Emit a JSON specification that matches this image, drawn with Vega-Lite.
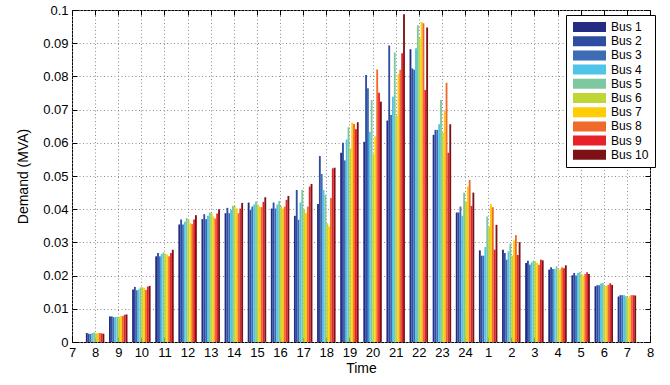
{
  "$schema": "https://vega.github.io/schema/vega-lite/v6.json",
  "width": 578,
  "height": 332,
  "autosize": {"type": "none"},
  "padding": {"left": 72, "top": 10, "right": 20, "bottom": 43},
  "background": "white",
  "config": {
    "font": "Liberation Sans",
    "view": {"stroke": "black", "strokeWidth": 1},
    "axis": {
      "domain": false,
      "labelFont": "Liberation Sans",
      "labelFontSize": 13,
      "labelColor": "black",
      "titleFont": "Liberation Sans",
      "titleFontSize": 14,
      "titleFontWeight": "normal",
      "titleColor": "black",
      "tickColor": "black",
      "tickSize": -5,
      "labelPadding": 9,
      "gridColor": "#8c8c8c",
      "gridDash": [1, 2.5],
      "gridOpacity": 1
    }
  },
  "datasets": {
    "load": [
      {"hour": "8", "bus": "Bus 1", "mva": 0.0027}, {"hour": "8", "bus": "Bus 2", "mva": 0.0025}, {"hour": "8", "bus": "Bus 3", "mva": 0.0024}, {"hour": "8", "bus": "Bus 4", "mva": 0.0027}, {"hour": "8", "bus": "Bus 5", "mva": 0.0029}, {"hour": "8", "bus": "Bus 6", "mva": 0.0026}, {"hour": "8", "bus": "Bus 7", "mva": 0.0027}, {"hour": "8", "bus": "Bus 8", "mva": 0.0027}, {"hour": "8", "bus": "Bus 9", "mva": 0.0026}, {"hour": "8", "bus": "Bus 10", "mva": 0.0025},
      {"hour": "9", "bus": "Bus 1", "mva": 0.0077}, {"hour": "9", "bus": "Bus 2", "mva": 0.0077}, {"hour": "9", "bus": "Bus 3", "mva": 0.0075}, {"hour": "9", "bus": "Bus 4", "mva": 0.0075}, {"hour": "9", "bus": "Bus 5", "mva": 0.0076}, {"hour": "9", "bus": "Bus 6", "mva": 0.0076}, {"hour": "9", "bus": "Bus 7", "mva": 0.0078}, {"hour": "9", "bus": "Bus 8", "mva": 0.0078}, {"hour": "9", "bus": "Bus 9", "mva": 0.0082}, {"hour": "9", "bus": "Bus 10", "mva": 0.0083},
      {"hour": "10", "bus": "Bus 1", "mva": 0.0158}, {"hour": "10", "bus": "Bus 2", "mva": 0.0166}, {"hour": "10", "bus": "Bus 3", "mva": 0.0156}, {"hour": "10", "bus": "Bus 4", "mva": 0.0158}, {"hour": "10", "bus": "Bus 5", "mva": 0.0164}, {"hour": "10", "bus": "Bus 6", "mva": 0.0165}, {"hour": "10", "bus": "Bus 7", "mva": 0.0163}, {"hour": "10", "bus": "Bus 8", "mva": 0.0157}, {"hour": "10", "bus": "Bus 9", "mva": 0.0167}, {"hour": "10", "bus": "Bus 10", "mva": 0.0169},
      {"hour": "11", "bus": "Bus 1", "mva": 0.0258}, {"hour": "11", "bus": "Bus 2", "mva": 0.0268}, {"hour": "11", "bus": "Bus 3", "mva": 0.0258}, {"hour": "11", "bus": "Bus 4", "mva": 0.0265}, {"hour": "11", "bus": "Bus 5", "mva": 0.027}, {"hour": "11", "bus": "Bus 6", "mva": 0.0266}, {"hour": "11", "bus": "Bus 7", "mva": 0.0263}, {"hour": "11", "bus": "Bus 8", "mva": 0.0258}, {"hour": "11", "bus": "Bus 9", "mva": 0.0268}, {"hour": "11", "bus": "Bus 10", "mva": 0.0278},
      {"hour": "12", "bus": "Bus 1", "mva": 0.0354}, {"hour": "12", "bus": "Bus 2", "mva": 0.0369}, {"hour": "12", "bus": "Bus 3", "mva": 0.0354}, {"hour": "12", "bus": "Bus 4", "mva": 0.0362}, {"hour": "12", "bus": "Bus 5", "mva": 0.0373}, {"hour": "12", "bus": "Bus 6", "mva": 0.0369}, {"hour": "12", "bus": "Bus 7", "mva": 0.0358}, {"hour": "12", "bus": "Bus 8", "mva": 0.0355}, {"hour": "12", "bus": "Bus 9", "mva": 0.0369}, {"hour": "12", "bus": "Bus 10", "mva": 0.0382},
      {"hour": "13", "bus": "Bus 1", "mva": 0.037}, {"hour": "13", "bus": "Bus 2", "mva": 0.0385}, {"hour": "13", "bus": "Bus 3", "mva": 0.037}, {"hour": "13", "bus": "Bus 4", "mva": 0.038}, {"hour": "13", "bus": "Bus 5", "mva": 0.039}, {"hour": "13", "bus": "Bus 6", "mva": 0.0388}, {"hour": "13", "bus": "Bus 7", "mva": 0.0378}, {"hour": "13", "bus": "Bus 8", "mva": 0.0372}, {"hour": "13", "bus": "Bus 9", "mva": 0.0387}, {"hour": "13", "bus": "Bus 10", "mva": 0.04},
      {"hour": "14", "bus": "Bus 1", "mva": 0.0388}, {"hour": "14", "bus": "Bus 2", "mva": 0.0404}, {"hour": "14", "bus": "Bus 3", "mva": 0.0388}, {"hour": "14", "bus": "Bus 4", "mva": 0.0398}, {"hour": "14", "bus": "Bus 5", "mva": 0.041}, {"hour": "14", "bus": "Bus 6", "mva": 0.041}, {"hour": "14", "bus": "Bus 7", "mva": 0.0402}, {"hour": "14", "bus": "Bus 8", "mva": 0.0388}, {"hour": "14", "bus": "Bus 9", "mva": 0.0402}, {"hour": "14", "bus": "Bus 10", "mva": 0.0419},
      {"hour": "15", "bus": "Bus 1", "mva": 0.042}, {"hour": "15", "bus": "Bus 2", "mva": 0.0398}, {"hour": "15", "bus": "Bus 3", "mva": 0.0408}, {"hour": "15", "bus": "Bus 4", "mva": 0.0414}, {"hour": "15", "bus": "Bus 5", "mva": 0.0423}, {"hour": "15", "bus": "Bus 6", "mva": 0.0414}, {"hour": "15", "bus": "Bus 7", "mva": 0.0408}, {"hour": "15", "bus": "Bus 8", "mva": 0.0406}, {"hour": "15", "bus": "Bus 9", "mva": 0.0422}, {"hour": "15", "bus": "Bus 10", "mva": 0.0436},
      {"hour": "16", "bus": "Bus 1", "mva": 0.0402}, {"hour": "16", "bus": "Bus 2", "mva": 0.042}, {"hour": "16", "bus": "Bus 3", "mva": 0.0402}, {"hour": "16", "bus": "Bus 4", "mva": 0.0414}, {"hour": "16", "bus": "Bus 5", "mva": 0.0425}, {"hour": "16", "bus": "Bus 6", "mva": 0.041}, {"hour": "16", "bus": "Bus 7", "mva": 0.0402}, {"hour": "16", "bus": "Bus 8", "mva": 0.0408}, {"hour": "16", "bus": "Bus 9", "mva": 0.0428}, {"hour": "16", "bus": "Bus 10", "mva": 0.044},
      {"hour": "17", "bus": "Bus 1", "mva": 0.038}, {"hour": "17", "bus": "Bus 2", "mva": 0.0458}, {"hour": "17", "bus": "Bus 3", "mva": 0.0368}, {"hour": "17", "bus": "Bus 4", "mva": 0.042}, {"hour": "17", "bus": "Bus 5", "mva": 0.0458}, {"hour": "17", "bus": "Bus 6", "mva": 0.04}, {"hour": "17", "bus": "Bus 7", "mva": 0.0388}, {"hour": "17", "bus": "Bus 8", "mva": 0.0408}, {"hour": "17", "bus": "Bus 9", "mva": 0.0468}, {"hour": "17", "bus": "Bus 10", "mva": 0.0476},
      {"hour": "18", "bus": "Bus 1", "mva": 0.0416}, {"hour": "18", "bus": "Bus 2", "mva": 0.056}, {"hour": "18", "bus": "Bus 3", "mva": 0.0506}, {"hour": "18", "bus": "Bus 4", "mva": 0.0458}, {"hour": "18", "bus": "Bus 5", "mva": 0.0443}, {"hour": "18", "bus": "Bus 6", "mva": 0.0358}, {"hour": "18", "bus": "Bus 7", "mva": 0.0348}, {"hour": "18", "bus": "Bus 8", "mva": 0.0434}, {"hour": "18", "bus": "Bus 9", "mva": 0.0523}, {"hour": "18", "bus": "Bus 10", "mva": 0.0525},
      {"hour": "19", "bus": "Bus 1", "mva": 0.057}, {"hour": "19", "bus": "Bus 2", "mva": 0.06}, {"hour": "19", "bus": "Bus 3", "mva": 0.0547}, {"hour": "19", "bus": "Bus 4", "mva": 0.061}, {"hour": "19", "bus": "Bus 5", "mva": 0.0647}, {"hour": "19", "bus": "Bus 6", "mva": 0.0583}, {"hour": "19", "bus": "Bus 7", "mva": 0.0661}, {"hour": "19", "bus": "Bus 8", "mva": 0.0657}, {"hour": "19", "bus": "Bus 9", "mva": 0.0641}, {"hour": "19", "bus": "Bus 10", "mva": 0.0662},
      {"hour": "20", "bus": "Bus 1", "mva": 0.0603}, {"hour": "20", "bus": "Bus 2", "mva": 0.0804}, {"hour": "20", "bus": "Bus 3", "mva": 0.0764}, {"hour": "20", "bus": "Bus 4", "mva": 0.0633}, {"hour": "20", "bus": "Bus 5", "mva": 0.0729}, {"hour": "20", "bus": "Bus 6", "mva": 0.0565}, {"hour": "20", "bus": "Bus 7", "mva": 0.062}, {"hour": "20", "bus": "Bus 8", "mva": 0.0821}, {"hour": "20", "bus": "Bus 9", "mva": 0.0751}, {"hour": "20", "bus": "Bus 10", "mva": 0.0724},
      {"hour": "21", "bus": "Bus 1", "mva": 0.0667}, {"hour": "21", "bus": "Bus 2", "mva": 0.0893}, {"hour": "21", "bus": "Bus 3", "mva": 0.0684}, {"hour": "21", "bus": "Bus 4", "mva": 0.0739}, {"hour": "21", "bus": "Bus 5", "mva": 0.0872}, {"hour": "21", "bus": "Bus 6", "mva": 0.0682}, {"hour": "21", "bus": "Bus 7", "mva": 0.0807}, {"hour": "21", "bus": "Bus 8", "mva": 0.082}, {"hour": "21", "bus": "Bus 9", "mva": 0.087}, {"hour": "21", "bus": "Bus 10", "mva": 0.0987},
      {"hour": "22", "bus": "Bus 1", "mva": 0.0882}, {"hour": "22", "bus": "Bus 2", "mva": 0.0824}, {"hour": "22", "bus": "Bus 3", "mva": 0.082}, {"hour": "22", "bus": "Bus 4", "mva": 0.0885}, {"hour": "22", "bus": "Bus 5", "mva": 0.0954}, {"hour": "22", "bus": "Bus 6", "mva": 0.0915}, {"hour": "22", "bus": "Bus 7", "mva": 0.0964}, {"hour": "22", "bus": "Bus 8", "mva": 0.096}, {"hour": "22", "bus": "Bus 9", "mva": 0.0759}, {"hour": "22", "bus": "Bus 10", "mva": 0.0947},
      {"hour": "23", "bus": "Bus 1", "mva": 0.0624}, {"hour": "23", "bus": "Bus 2", "mva": 0.0639}, {"hour": "23", "bus": "Bus 3", "mva": 0.0639}, {"hour": "23", "bus": "Bus 4", "mva": 0.0656}, {"hour": "23", "bus": "Bus 5", "mva": 0.0729}, {"hour": "23", "bus": "Bus 6", "mva": 0.0631}, {"hour": "23", "bus": "Bus 7", "mva": 0.0696}, {"hour": "23", "bus": "Bus 8", "mva": 0.0781}, {"hour": "23", "bus": "Bus 9", "mva": 0.057}, {"hour": "23", "bus": "Bus 10", "mva": 0.0656},
      {"hour": "24", "bus": "Bus 1", "mva": 0.039}, {"hour": "24", "bus": "Bus 2", "mva": 0.039}, {"hour": "24", "bus": "Bus 3", "mva": 0.0408}, {"hour": "24", "bus": "Bus 4", "mva": 0.038}, {"hour": "24", "bus": "Bus 5", "mva": 0.045}, {"hour": "24", "bus": "Bus 6", "mva": 0.0423}, {"hour": "24", "bus": "Bus 7", "mva": 0.0468}, {"hour": "24", "bus": "Bus 8", "mva": 0.0488}, {"hour": "24", "bus": "Bus 9", "mva": 0.041}, {"hour": "24", "bus": "Bus 10", "mva": 0.045},
      {"hour": "1", "bus": "Bus 1", "mva": 0.0276}, {"hour": "1", "bus": "Bus 2", "mva": 0.026}, {"hour": "1", "bus": "Bus 3", "mva": 0.026}, {"hour": "1", "bus": "Bus 4", "mva": 0.0286}, {"hour": "1", "bus": "Bus 5", "mva": 0.0378}, {"hour": "1", "bus": "Bus 6", "mva": 0.0348}, {"hour": "1", "bus": "Bus 7", "mva": 0.0416}, {"hour": "1", "bus": "Bus 8", "mva": 0.0406}, {"hour": "1", "bus": "Bus 9", "mva": 0.0278}, {"hour": "1", "bus": "Bus 10", "mva": 0.0353},
      {"hour": "2", "bus": "Bus 1", "mva": 0.0278}, {"hour": "2", "bus": "Bus 2", "mva": 0.0268}, {"hour": "2", "bus": "Bus 3", "mva": 0.0248}, {"hour": "2", "bus": "Bus 4", "mva": 0.0273}, {"hour": "2", "bus": "Bus 5", "mva": 0.0296}, {"hour": "2", "bus": "Bus 6", "mva": 0.026}, {"hour": "2", "bus": "Bus 7", "mva": 0.0306}, {"hour": "2", "bus": "Bus 8", "mva": 0.0322}, {"hour": "2", "bus": "Bus 9", "mva": 0.0262}, {"hour": "2", "bus": "Bus 10", "mva": 0.0301},
      {"hour": "3", "bus": "Bus 1", "mva": 0.0238}, {"hour": "3", "bus": "Bus 2", "mva": 0.0245}, {"hour": "3", "bus": "Bus 3", "mva": 0.0233}, {"hour": "3", "bus": "Bus 4", "mva": 0.024}, {"hour": "3", "bus": "Bus 5", "mva": 0.0245}, {"hour": "3", "bus": "Bus 6", "mva": 0.0243}, {"hour": "3", "bus": "Bus 7", "mva": 0.0238}, {"hour": "3", "bus": "Bus 8", "mva": 0.0233}, {"hour": "3", "bus": "Bus 9", "mva": 0.0248}, {"hour": "3", "bus": "Bus 10", "mva": 0.0246},
      {"hour": "4", "bus": "Bus 1", "mva": 0.0218}, {"hour": "4", "bus": "Bus 2", "mva": 0.0225}, {"hour": "4", "bus": "Bus 3", "mva": 0.022}, {"hour": "4", "bus": "Bus 4", "mva": 0.022}, {"hour": "4", "bus": "Bus 5", "mva": 0.0228}, {"hour": "4", "bus": "Bus 6", "mva": 0.0218}, {"hour": "4", "bus": "Bus 7", "mva": 0.022}, {"hour": "4", "bus": "Bus 8", "mva": 0.0225}, {"hour": "4", "bus": "Bus 9", "mva": 0.0222}, {"hour": "4", "bus": "Bus 10", "mva": 0.0231},
      {"hour": "5", "bus": "Bus 1", "mva": 0.0201}, {"hour": "5", "bus": "Bus 2", "mva": 0.0208}, {"hour": "5", "bus": "Bus 3", "mva": 0.02}, {"hour": "5", "bus": "Bus 4", "mva": 0.0208}, {"hour": "5", "bus": "Bus 5", "mva": 0.0211}, {"hour": "5", "bus": "Bus 6", "mva": 0.0205}, {"hour": "5", "bus": "Bus 7", "mva": 0.02}, {"hour": "5", "bus": "Bus 8", "mva": 0.0205}, {"hour": "5", "bus": "Bus 9", "mva": 0.021}, {"hour": "5", "bus": "Bus 10", "mva": 0.0205},
      {"hour": "6", "bus": "Bus 1", "mva": 0.0168}, {"hour": "6", "bus": "Bus 2", "mva": 0.0171}, {"hour": "6", "bus": "Bus 3", "mva": 0.0171}, {"hour": "6", "bus": "Bus 4", "mva": 0.0176}, {"hour": "6", "bus": "Bus 5", "mva": 0.0178}, {"hour": "6", "bus": "Bus 6", "mva": 0.0169}, {"hour": "6", "bus": "Bus 7", "mva": 0.0169}, {"hour": "6", "bus": "Bus 8", "mva": 0.0172}, {"hour": "6", "bus": "Bus 9", "mva": 0.0177}, {"hour": "6", "bus": "Bus 10", "mva": 0.0172},
      {"hour": "7", "bus": "Bus 1", "mva": 0.0137}, {"hour": "7", "bus": "Bus 2", "mva": 0.0141}, {"hour": "7", "bus": "Bus 3", "mva": 0.0141}, {"hour": "7", "bus": "Bus 4", "mva": 0.0141}, {"hour": "7", "bus": "Bus 5", "mva": 0.0138}, {"hour": "7", "bus": "Bus 6", "mva": 0.0134}, {"hour": "7", "bus": "Bus 7", "mva": 0.0138}, {"hour": "7", "bus": "Bus 8", "mva": 0.0141}, {"hour": "7", "bus": "Bus 9", "mva": 0.0141}, {"hour": "7", "bus": "Bus 10", "mva": 0.014}
    ],
    "timeTicks": [{"pos": 0}, {"pos": 25}],
    "demandTicks": [{"v": 0}, {"v": 0.1}]
  },
  "layer": [
    {
      "data": {"name": "load"},
      "mark": {"type": "bar"},
      "encoding": {
        "x": {
          "field": "hour",
          "type": "nominal",
          "scale": {
            "domain": ["8", "9", "10", "11", "12", "13", "14", "15", "16", "17", "18", "19", "20", "21", "22", "23", "24", "1", "2", "3", "4", "5", "6", "7"],
            "paddingInner": 0.2,
            "paddingOuter": 0.6
          },
          "axis": null
        },
        "xOffset": {
          "field": "bus",
          "type": "nominal",
          "scale": {"domain": ["Bus 1", "Bus 2", "Bus 3", "Bus 4", "Bus 5", "Bus 6", "Bus 7", "Bus 8", "Bus 9", "Bus 10"]}
        },
        "y": {
          "field": "mva",
          "type": "quantitative",
          "scale": {"domain": [0, 0.1], "nice": false, "zero": true},
          "axis": {
            "values": [0, 0.01, 0.02, 0.03, 0.04, 0.05, 0.06, 0.07, 0.08, 0.09, 0.1],
            "format": ".2~f",
            "grid": true,
            "title": "Demand (MVA)",
            "titlePadding": 12
          }
        },
        "color": {
          "field": "bus",
          "type": "nominal",
          "scale": {
            "domain": ["Bus 1", "Bus 2", "Bus 3", "Bus 4", "Bus 5", "Bus 6", "Bus 7", "Bus 8", "Bus 9", "Bus 10"],
            "range": ["#232c82", "#2e4da0", "#3d6cb5", "#4dc4e8", "#7ec8a0", "#c0d636", "#ffcc05", "#f06a2a", "#e8202a", "#7d1216"]
          },
          "legend": {
            "orient": "none",
            "legendX": 494,
            "legendY": 5,
            "title": null,
            "strokeColor": "black",
            "fillColor": "white",
            "padding": 6,
            "symbolType": "M-1,-1H5.6V1H-1Z",
            "symbolSize": 100,
            "symbolStrokeWidth": 0,
            "symbolOpacity": 1,
            "labelFont": "Liberation Sans",
            "labelFontSize": 12,
            "labelColor": "black",
            "labelOffset": 27,
            "rowPadding": 2.2
          }
        }
      }
    },
    {
      "data": {"name": "timeTicks"},
      "mark": {"type": "rule", "opacity": 0},
      "encoding": {
        "x": {
          "field": "pos",
          "type": "quantitative",
          "scale": {"domain": [0, 25], "nice": false, "zero": false},
          "axis": {
            "orient": "bottom",
            "values": [0, 1, 2, 3, 4, 5, 6, 7, 8, 9, 10, 11, 12, 13, 14, 15, 16, 17, 18, 19, 20, 21, 22, 23, 24, 25],
            "labelExpr": "((datum.value + 6) % 24) + 1",
            "labelFlush": false,
            "grid": true,
            "title": "Time",
            "titlePadding": 2
          }
        }
      }
    },
    {
      "data": {"name": "timeTicks"},
      "mark": {"type": "rule", "opacity": 0},
      "encoding": {
        "x": {
          "field": "pos",
          "type": "quantitative",
          "scale": {"domain": [0, 25], "nice": false, "zero": false},
          "axis": {
            "orient": "top",
            "values": [0, 1, 2, 3, 4, 5, 6, 7, 8, 9, 10, 11, 12, 13, 14, 15, 16, 17, 18, 19, 20, 21, 22, 23, 24, 25],
            "labels": false,
            "grid": false,
            "title": null
          }
        }
      }
    },
    {
      "data": {"name": "demandTicks"},
      "mark": {"type": "rule", "opacity": 0},
      "encoding": {
        "y": {
          "field": "v",
          "type": "quantitative",
          "axis": {
            "orient": "right",
            "values": [0, 0.01, 0.02, 0.03, 0.04, 0.05, 0.06, 0.07, 0.08, 0.09, 0.1],
            "labels": false,
            "grid": false,
            "title": null
          }
        }
      }
    }
  ],
  "resolve": {"scale": {"x": "independent"}, "axis": {"y": "independent"}}
}
